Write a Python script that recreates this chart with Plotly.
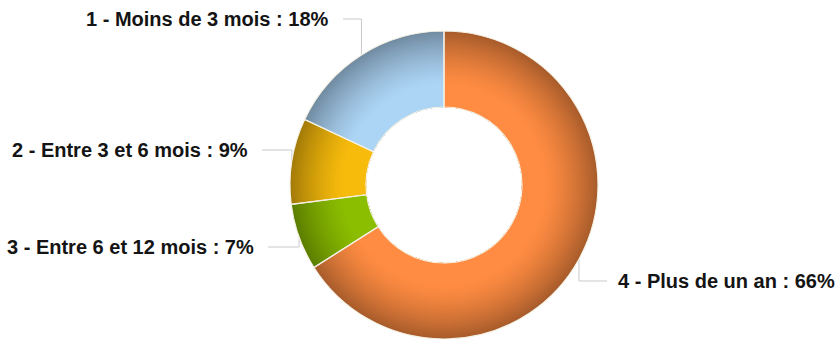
import numpy as np
import plotly.graph_objects as go

# ---- data ----
labels = ["1 - Moins de 3 mois", "2 - Entre 3 et 6 mois", "3 - Entre 6 et 12 mois", "4 - Plus de un an"]
values = [18, 9, 7, 66]

# ---- styles / layout constants ----
W, H = 835, 340
CX, CY = 444, 185          # pie centre (px)
R_OUT, R_IN = 154, 78      # outer / inner radius (px)
light_cols = [(172, 212, 245), (247, 187, 12), (140, 190, 0), (255, 140, 66)]
DARK = 0.66
label_y = [19, 150, 247, 281]          # px, label rows
line_end_x = [343, 262, 268, 607]       # px, where connector meets label
label_side = ["left", "left", "left", "right"]

def px(x):
    return x / W

def py(y):
    return 1 - y / H

def rgb(c):
    return "rgb(%d,%d,%d)" % tuple(int(round(v)) for v in c)

total = float(sum(values))
# plotly's counterclockwise mode places the first slice clockwise of the start;
# shift it so slice 1 begins at 12 o'clock and runs counterclockwise
rot = -360.0 * values[0] / total

fig = go.Figure()

# shaded rings: from outermost (dark) to inner (light)
radii = np.linspace(R_OUT, 100, 36)
for r in radii:
    t = (r - radii[-1]) / (R_OUT - radii[-1])
    t = t ** 1.4
    cols = []
    for c in light_cols:
        d = [v * DARK for v in c]
        cols.append(rgb([c[i] + (d[i] - c[i]) * t for i in range(3)]))
    fig.add_trace(go.Pie(
        labels=labels, values=values, sort=False, direction="counterclockwise",
        rotation=rot, hole=R_IN / r, textinfo="none", hoverinfo="skip",
        showlegend=False,
        marker=dict(colors=cols, line=dict(width=0)),
        domain=dict(x=[px(CX - r), px(CX + r)], y=[py(CY + r), py(CY - r)]),
    ))

# separators
fig.add_trace(go.Pie(
    labels=labels, values=values, sort=False, direction="counterclockwise",
    rotation=rot, hole=R_IN / R_OUT, textinfo="none", hoverinfo="skip",
    showlegend=False,
    marker=dict(colors=["rgba(0,0,0,0)"] * 4, line=dict(color="#f4f1e4", width=1.2)),
    domain=dict(x=[px(CX - R_OUT), px(CX + R_OUT)], y=[py(CY + R_OUT), py(CY - R_OUT)]),
))

# labels and connectors from slice mid-angles
cum = np.cumsum([0] + values[:-1])
shapes = []
annotations = []
for i, v in enumerate(values):
    frac_mid = (cum[i] + v / 2.0) / total
    th = 2 * np.pi * frac_mid
    mx = CX - R_OUT * np.sin(th)
    my = CY - R_OUT * np.cos(th)
    ly = label_y[i]
    lx = line_end_x[i]
    path = "M %f,%f L %f,%f L %f,%f" % (px(lx), py(ly), px(mx), py(ly), px(mx), py(my))
    shapes.append(dict(type="path", path=path, xref="paper", yref="paper",
                       line=dict(color="#c9c9c9", width=1), layer="below"))
    pct = round(100 * v / total)
    if label_side[i] == "left":
        ax, anchor = lx - 12, "right"
    else:
        ax, anchor = lx + 9, "left"
    annotations.append(dict(
        text="<b>%s : %d%%</b>" % (labels[i], pct),
        x=px(ax), y=py(ly), xref="paper", yref="paper",
        xanchor=anchor, yanchor="middle", showarrow=False,
        font=dict(family="Liberation Sans, Arial, sans-serif", size=20, color="#141414"),
    ))

fig.update_layout(
    width=W, height=H,
    margin=dict(l=0, r=0, t=0, b=0),
    paper_bgcolor="white", plot_bgcolor="white",
    shapes=shapes, annotations=annotations,
    showlegend=False,
)

fig.write_html("out.html")
